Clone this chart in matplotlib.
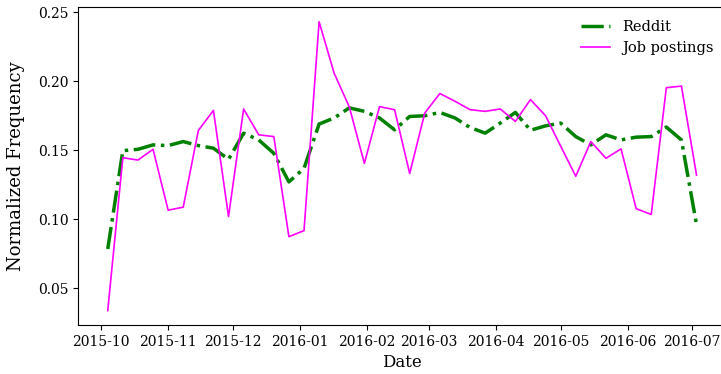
import pandas as pd
import matplotlib
matplotlib.use("Agg")
import matplotlib.pyplot as plt
import matplotlib.dates as mdates

plt.rcParams["font.family"] = "DejaVu Serif"

# weekly buckets (Sundays)
weeks = pd.date_range("2015-10-04", periods=40, freq="W")

reddit = [0.0785, 0.1497, 0.1507, 0.1539, 0.1534, 0.1563, 0.1534, 0.1515, 0.1434, 0.1624,
          0.1575, 0.1478, 0.1271, 0.1369, 0.1690, 0.1734, 0.1807, 0.1782, 0.1734, 0.1648,
          0.1745, 0.1750, 0.1774, 0.1734, 0.1665, 0.1624, 0.1697, 0.1774, 0.1645, 0.1677,
          0.1697, 0.1599, 0.1539, 0.1612, 0.1575, 0.1595, 0.1599, 0.1668, 0.1575, 0.0962]

jobs = [0.0339, 0.1446, 0.1429, 0.1507, 0.1066, 0.1088, 0.1643, 0.1789, 0.1020, 0.1799,
        0.1612, 0.1599, 0.0874, 0.0918, 0.2431, 0.2057, 0.1814, 0.1405, 0.1816, 0.1794,
        0.1332, 0.1770, 0.1911, 0.1855, 0.1794, 0.1782, 0.1799, 0.1709, 0.1867, 0.1750,
        0.1530, 0.1312, 0.1563, 0.1442, 0.1510, 0.1077, 0.1035, 0.1953, 0.1965, 0.1320]

fig = plt.figure(figsize=(7.21, 3.74), dpi=100)
ax = fig.add_axes([0.1086, 0.131, 0.8983, 0.8495])

ax.plot(weeks, reddit, color="green", linestyle="-.", linewidth=2.5, label="Reddit")
ax.plot(weeks, jobs, color="magenta", linewidth=1.2, label="Job postings")

ax.xaxis.set_major_locator(mdates.MonthLocator())
ax.xaxis.set_major_formatter(mdates.DateFormatter("%Y-%m"))
ax.tick_params(labelsize=10)

ax.set_xlabel("Date", fontsize=12)
ax.set_ylabel("Normalized Frequency", fontsize=13, labelpad=9)
ax.legend(loc="upper right", frameon=False, fontsize=10.5,
          labelspacing=0.5, borderpad=0.35)

fig.savefig("out.png", dpi=100)
